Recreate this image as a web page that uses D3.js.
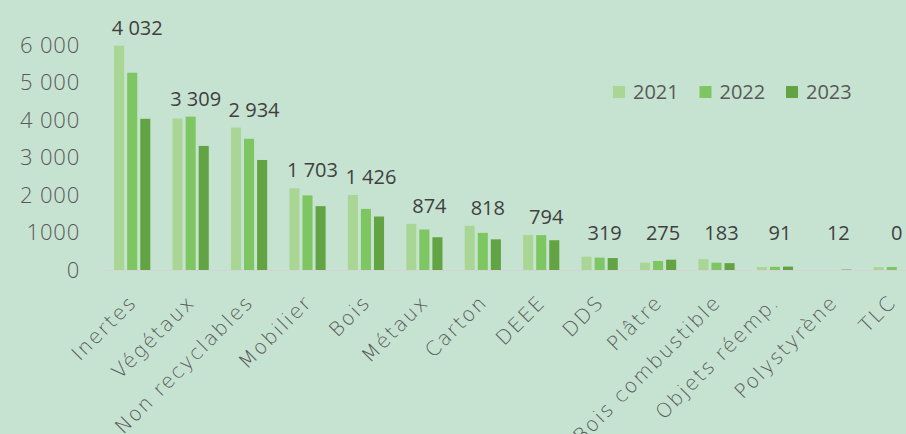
<!DOCTYPE html>
<html>
<head>
<meta charset="utf-8">
<script src="https://cdn.jsdelivr.net/npm/d3@7"></script>
<style>
  body { margin: 0; background: #c6e3d1; }
  svg { display: block; }
</style>
</head>
<body>
<script>
// values (tonnes)
const categories = ["Inertes", "Végétaux", "Non recyclables", "Mobilier", "Bois", "Métaux", "Carton",
  "DEEE", "DDS", "Plâtre", "Bois combustible", "Objets réemp.", "Polystyrène", "TLC"];
const years = ["2021", "2022", "2023"];
const values2021 = [5980, 4040, 3800, 2180, 2000, 1230, 1180, 935, 355, 195, 290, 80, 0, 80];
const values2022 = [5260, 4090, 3500, 1990, 1630, 1080, 990, 930, 330, 240, 195, 85, 0, 80];
const values2023 = [4032, 3309, 2934, 1703, 1426, 874, 818, 794, 319, 275, 183, 91, 12, 0];
const yTicks = [0, 1000, 2000, 3000, 4000, 5000, 6000];
const yTickLabels = ["0", "1000", "2 000", "3 000", "4 000", "5 000", "6 000"];
const colors = ["#a9d695", "#7ec662", "#62a443"];

let width = 906, height = 434;

let series = [values2021, values2022, values2023];
let data = categories.map(function(c, i) {
  return { name: c, vals: series.map(function(s) { return s[i]; }) };
});

let svg = d3.select("body").append("svg")
  .attr("width", width)
  .attr("height", height);

svg.append("rect").attr("width", width).attr("height", height).attr("fill", "#c6e3d1");

let x = d3.scaleBand().domain(categories).range([103, 921]).paddingInner(0.38).paddingOuter(0.19);
let x1 = d3.scaleBand().domain(years).range([0, x.bandwidth()]).paddingInner(0.23);
let y = d3.scaleLinear().domain([0, 6000]).range([270, 45]);

let fr = d3.formatLocale({ decimal: ",", thousands: "\u00a0", grouping: [3], currency: ["", "€"] });
let fmt = fr.format(",d");

// y axis labels
let yAxis = svg.append("g")
  .attr("transform", "translate(80,0)")
  .call(d3.axisLeft(y).tickValues(yTicks).tickSize(0).tickPadding(0)
    .tickFormat(function(d, i) { return yTickLabels[i]; }));
yAxis.select(".domain").remove();
yAxis.selectAll("text")
  .attr("fill", "#595959")
  .style("font-family", "'Open Sans', sans-serif")
  .style("font-weight", 300)
  .style("font-size", "22px")
  .style("letter-spacing", "0.8px");

// bars
let groups = svg.append("g").selectAll("g")
  .data(data)
  .enter().append("g")
  .attr("transform", function(d) { return "translate(" + x(d.name) + ",0)"; });

groups.selectAll("rect")
  .data(function(d) { return d.vals.map(function(v, j) { return { year: years[j], v: v, j: j }; }); })
  .enter().append("rect")
  .attr("x", function(d) { return x1(d.year); })
  .attr("y", function(d) { return y(d.v); })
  .attr("width", x1.bandwidth())
  .attr("height", function(d) { return y(0) - y(d.v); })
  .attr("fill", function(d) { return colors[d.j]; });

// baseline
svg.append("line")
  .attr("x1", 103).attr("x2", width)
  .attr("y1", y(0) + 0.5).attr("y2", y(0) + 0.5)
  .attr("stroke", "#d4d4d4").attr("stroke-width", 1.2);

// value labels (2023)
groups.append("text")
  .attr("x", x.bandwidth() / 2 + 5)
  .attr("y", function(d) { return y(Math.max(d3.max(d.vals), 500)) - 11; })
  .attr("text-anchor", "middle")
  .attr("fill", "#404040")
  .style("font-family", "'Open Sans', sans-serif")
  .style("font-size", "20px")
  .text(function(d) { return fmt(d.vals[2]); });

// x labels
svg.append("g").selectAll("text")
  .data(categories)
  .enter().append("text")
  .attr("transform", function(d) { return "translate(" + (x(d) + x.bandwidth() / 2 - 5) + ",293) rotate(-45)"; })
  .attr("dy", "0.75em")
  .attr("text-anchor", "end")
  .attr("fill", "#595959")
  .style("font-family", "'DejaVu Sans', sans-serif")
  .style("font-weight", 200)
  .style("font-size", "20px")
  .style("letter-spacing", "1.8px")
  .text(function(d) { return d; });

// legend
let legend = svg.append("g").selectAll("g")
  .data(years)
  .enter().append("g")
  .attr("transform", function(d, i) { return "translate(" + (613 + i * 86.5) + ",86)"; });
legend.append("rect").attr("width", 12).attr("height", 12)
  .attr("fill", function(d, i) { return colors[i]; });
legend.append("text")
  .attr("x", 20).attr("y", 6).attr("dy", "0.35em")
  .attr("fill", "#595959")
  .style("font-family", "'Open Sans', sans-serif")
  .style("font-size", "20px")
  .text(function(d) { return d; });
</script>
</body>
</html>
